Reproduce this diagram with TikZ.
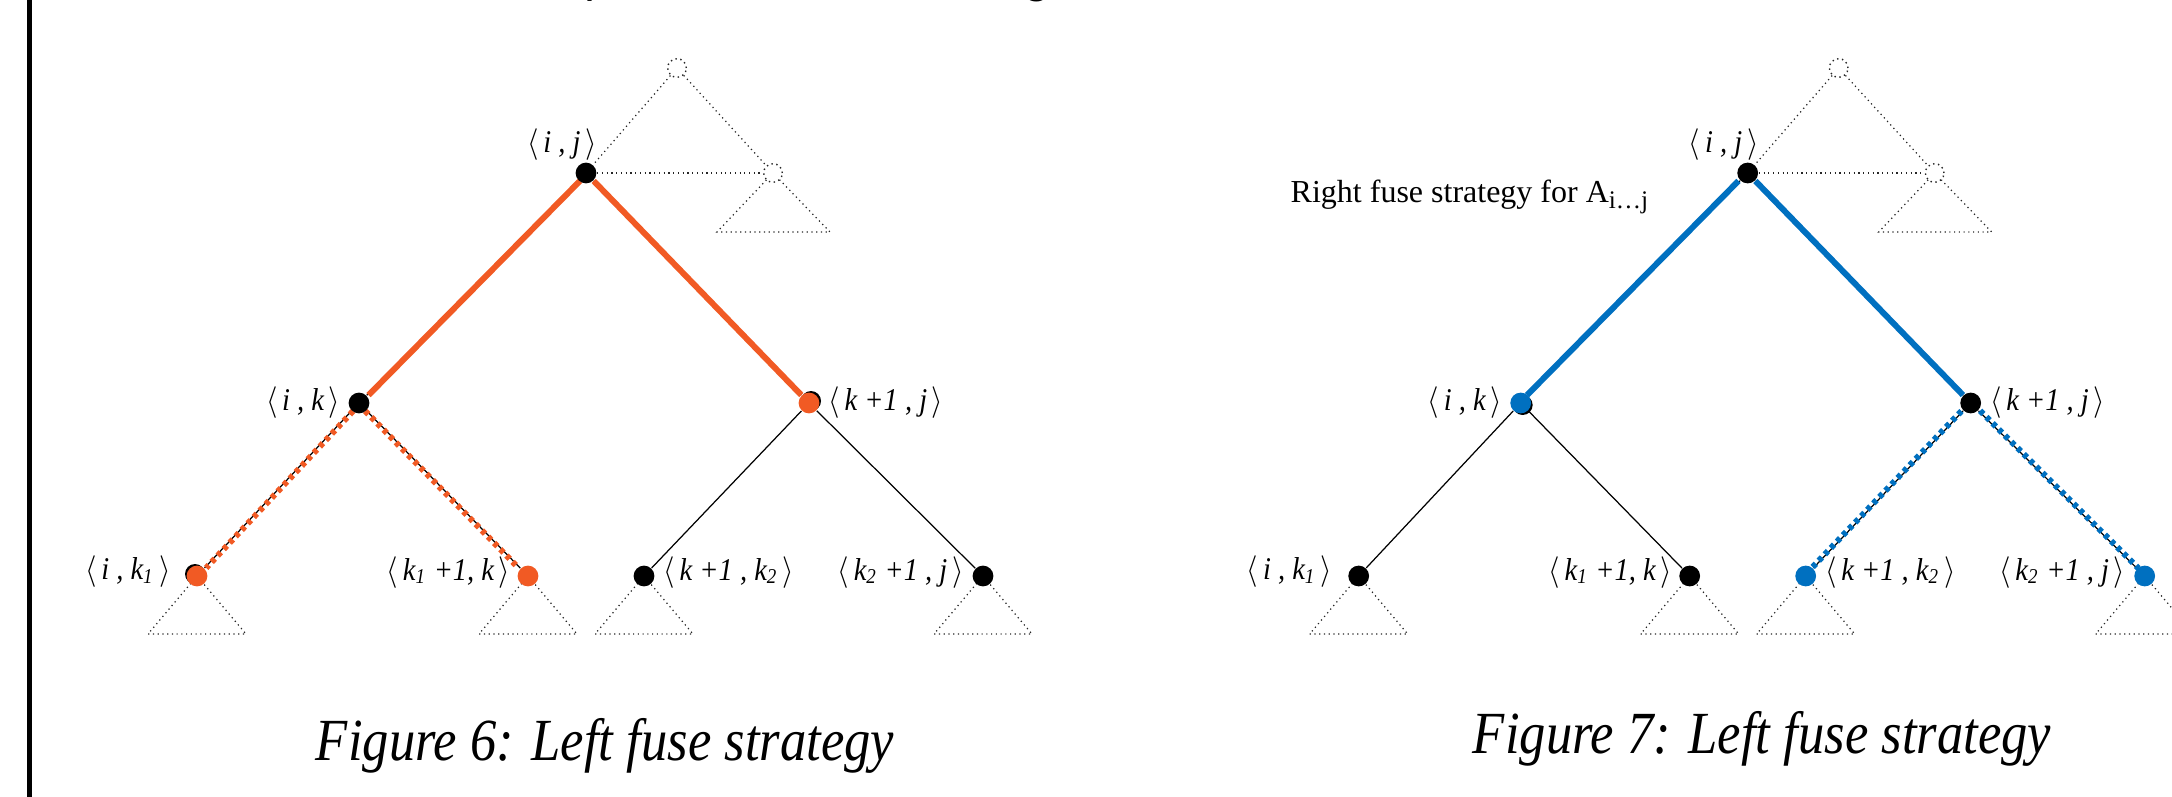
\documentclass[tikz,border=0pt]{standalone}
\usepackage{fontspec}
\setmainfont{Liberation Serif}
\newfontfamily\carl{Carlito}
\usetikzlibrary{backgrounds}
\definecolor{forange}{RGB}{241,90,36}
\definecolor{fblue}{RGB}{0,112,192}
\newcommand{\lbl}[1]{\scalebox{0.9}[1]{\itshape #1}}
\newcommand{\fusetree}[1]{%
  \node[opennode] (#1T0) at (677,68) {};
  \node[s-ij] (#1ij) at (586,173) {};
  \node[opennode] (#1T1) at (773,173) {};
  \node[s-ik] (#1ik) at (359,403) {};
  \node[s-kj] (#1kj) at (809,403) {};
  \node[s-ikk] (#1ikk) at (197,576) {};
  \node[s-kkk] (#1kkk) at (528,576) {};
  \node[s-kkt] (#1kkt) at (644,576) {};
  \node[s-kkj] (#1kkj) at (983,576) {};
  \node[lab] (#1Lij) at (562,145) {\lbl{$\langle$\,i , j\,$\rangle$}};
  \node[lab,anchor=east] (#1Lik) at ([xshift=-2pt]#1ik.west) {\lbl{$\langle$\,i , k\,$\rangle$}};
  \node[lab,anchor=west] (#1Lkj) at ([xshift=2.2pt]#1kj.east) {\lbl{$\langle$\,k +1 , j\,$\rangle$}};
  \node[lab,anchor=east] (#1Likk) at ([xshift=-4.2pt,yshift=1.2pt]#1ikk.west) {\lbl{$\langle$\,i , k\textsubscript{1}\,$\rangle$}};
  \node[lab,anchor=east] (#1Lkkk) at ([xshift=-1.7pt,yshift=1pt]#1kkk.west) {\lbl{$\langle$\,k\textsubscript{1} +1, k\,$\rangle$}};
  \node[lab,anchor=west] (#1Lkkt) at ([xshift=2.2pt,yshift=1pt]#1kkt.east) {\lbl{$\langle$\,k +1 , k\textsubscript{2}\,$\rangle$}};
  \node[lab,anchor=east] (#1Lkkj) at ([xshift=-2.2pt,yshift=1pt]#1kkj.west) {\lbl{$\langle$\,k\textsubscript{2} +1 , j\,$\rangle$}};
  \begin{scope}[on background layer]
    \draw[gedge] (#1T0) -- (#1ij);
    \draw[gedge] (#1T0) -- (#1T1);
    \draw[gedge] (#1ij) -- (#1T1);
    \draw[gedge] (#1T1.center) -- ++(-56,59) -- ++(113,0) -- cycle;
    \foreach \n in {ikk,kkk,kkt,kkj}{
      \draw[gedge] (#1\n.center) -- ++(-49,58) -- ++(98,0) -- cycle;}
    \draw[tedge] (#1ij) -- (#1ik);
    \draw[tedge] (#1ij) -- (#1kj);
    \draw[tedge] (#1ik) -- (#1ikk);
    \draw[tedge] (#1ik) -- (#1kkk);
    \draw[tedge] (#1kj) -- (#1kkt);
    \draw[tedge] (#1kj) -- (#1kkj);
    \path[e-ik] (#1ij) -- (#1ik);
    \path[e-kj] (#1ij) -- (#1kj);
    \path[e-ikk] (#1ik) -- (#1ikk);
    \path[e-kkk] (#1ik) -- (#1kkk);
    \path[e-kkt] (#1kj) -- (#1kkt);
    \path[e-kkj] (#1kj) -- (#1kkj);
  \end{scope}
}
\begin{document}
\begin{tikzpicture}[x=0.01cm,y=-0.01cm,
  bnode/.style={circle,fill=black,inner sep=0pt,minimum size=5.9pt},
  onode/.style={bnode,fill=forange},
  cnode/.style={bnode,fill=fblue},
  opennode/.style={circle,draw=black!85,densely dotted,line width=0.4pt,fill=white,inner sep=0pt,minimum size=5.3pt},
  tedge/.style={draw=black,line width=0.35pt},
  gedge/.style={draw=black!85,line width=0.35pt,densely dotted},
  othick/.style={draw=forange,line width=1.7pt},
  bthick/.style={draw=fblue,line width=1.7pt},
  odots/.style={draw=forange,line width=1.7pt,dash pattern=on 1.3pt off 1.2pt},
  bdots/.style={draw=fblue,line width=1.7pt,dash pattern=on 1.3pt off 1.2pt},
  lab/.style={inner sep=0pt,font=\fontsize{9}{10}\selectfont},
  captext/.style={inner sep=0pt,font=\fontsize{17}{20}\selectfont\itshape},
  headtext/.style={anchor=base west,inner sep=0pt,font=\carl\fontsize{14}{14}\selectfont},
  nothing/.style={}]
\useasboundingbox (0,0) rectangle (2172,797);
% page border line and cut-off heading
\draw[line width=1.45pt] (29.5,0) -- (29.5,797);
\node[headtext] (headA) at (584,-6) {p};
\node[headtext] (headB) at (960,-6) {,};
\node[headtext] (headC) at (1025,-6) {g};
% left tree
\begin{scope}[s-ij/.style={bnode}, s-ik/.style={bnode}, s-kj/.style={onode},
  s-ikk/.style={onode}, s-kkk/.style={onode}, s-kkt/.style={bnode}, s-kkj/.style={bnode},
  e-ik/.style={othick,transform canvas={xshift=0.5pt}}, e-kj/.style={othick},
  e-ikk/.style={odots,transform canvas={xshift=0.45pt}}, e-kkk/.style={odots,transform canvas={xshift=-0.45pt}},
  e-kkt/.style={nothing}, e-kkj/.style={nothing}]
  \fill (811,401) circle[radius=10];
  \fill (195,574) circle[radius=10];
  \fusetree{L}
\end{scope}
\node[captext,anchor=base] (cap6) at (605,760) {\scalebox{0.88}[1]{Figure 6: Left fuse strategy}};
% right tree
\begin{scope}[xshift=11.61cm,
  s-ij/.style={bnode}, s-ik/.style={cnode}, s-kj/.style={bnode},
  s-ikk/.style={bnode}, s-kkk/.style={bnode}, s-kkt/.style={cnode}, s-kkj/.style={cnode},
  e-ik/.style={bthick,transform canvas={xshift=-0.4pt}}, e-kj/.style={bthick},
  e-ikk/.style={nothing}, e-kkk/.style={nothing},
  e-kkt/.style={bdots,transform canvas={xshift=-0.45pt}}, e-kkj/.style={bdots,transform canvas={xshift=0.45pt}}]
  \fill (361,405) circle[radius=10];
  \fusetree{R}
\end{scope}
\node[anchor=base west,inner sep=0pt,font=\fontsize{9.1}{11}\selectfont] (rtext) at (1290,202) {Right fuse strategy for A\raisebox{-0.45ex}{\fontsize{7.2}{8}\selectfont i\ldots j}};
\node[captext,anchor=base] (cap7) at (1762,753) {\scalebox{0.88}[1]{Figure 7: Left fuse strategy}};
\end{tikzpicture}
\end{document}
